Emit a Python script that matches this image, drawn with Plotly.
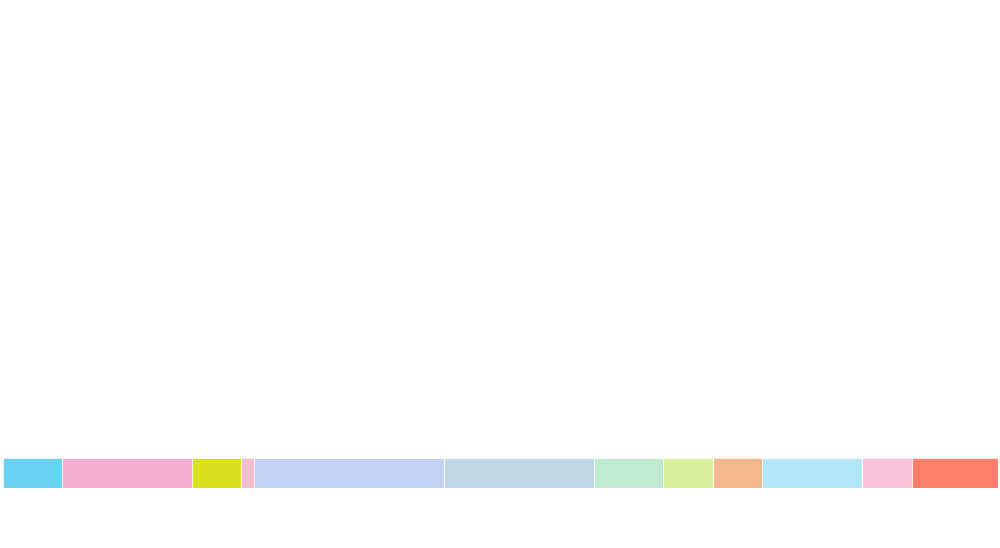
import plotly.graph_objects as go

categories = ["A", "B", "C", "D", "E", "F", "G", "H", "I", "J", "K", "L"]
values = [59, 128, 49, 13, 188, 148, 68, 50, 48, 99, 49, 85]
colors = ["#67D3F0", "#F6AFD4", "#D9E020", "#F7BCD1", "#C2D1F4", "#C0D8E4",
          "#C0EBCE", "#D9EE9B", "#F6B78E", "#B2E6F8", "#F8C2DA", "#FF7F6A"]

fig = go.Figure()
for c, v, col in zip(categories, values, colors):
    fig.add_trace(go.Bar(
        x=[v], y=[0], name=c, orientation="h",
        marker=dict(color=col, line=dict(color="rgba(255,255,255,0.8)", width=1)),
        width=1, hoverinfo="name+x",
    ))

fig.update_layout(
    barmode="stack",
    width=1000, height=548,
    margin=dict(l=3, r=2, t=458, b=60, pad=0),
    paper_bgcolor="white", plot_bgcolor="white",
    showlegend=False,
    xaxis=dict(visible=False, range=[0, sum(values)], fixedrange=True),
    yaxis=dict(visible=False, range=[-0.5, 0.5], fixedrange=True),
)

fig.write_html("out.html",
               config={"displayModeBar": False},
               post_script="document.body.style.margin='0';document.body.style.overflow='hidden';")
